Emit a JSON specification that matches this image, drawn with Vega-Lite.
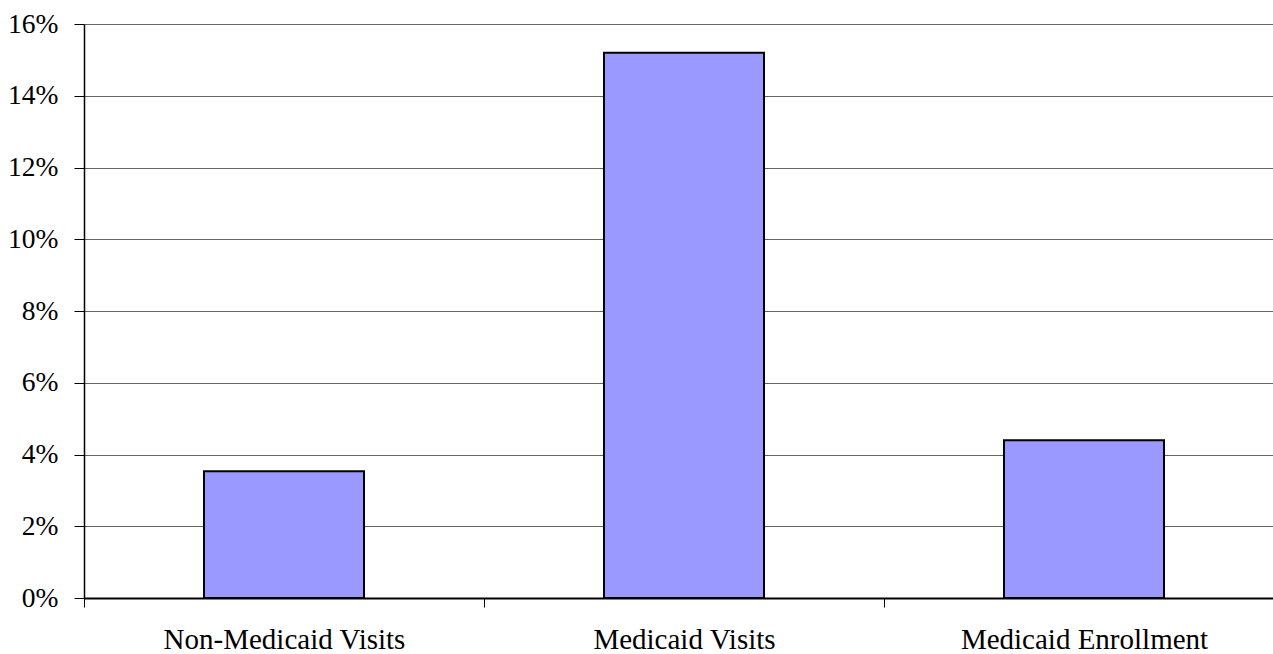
{
  "$schema": "https://vega.github.io/schema/vega-lite/v6.json",
  "autosize": "none",
  "padding": {"left": 84, "top": 24, "right": 0, "bottom": 56},
  "width": 1200,
  "height": 574,
  "background": "white",
  "config": {"view": {"stroke": null}},
  "data": {
    "values": [
      {"category": "Non-Medicaid Visits", "value": 0.0353},
      {"category": "Medicaid Visits", "value": 0.152},
      {"category": "Medicaid Enrollment", "value": 0.044}
    ]
  },
  "mark": {"type": "bar", "color": "#9999FF", "stroke": "#000000", "strokeWidth": 2, "width": {"band": 0.4}},
  "encoding": {
    "x": {
      "field": "category",
      "type": "nominal",
      "sort": null,
      "scale": {"paddingInner": 0, "paddingOuter": 0},
      "axis": {
        "title": null,
        "labelAngle": 0,
        "labelFont": "Liberation Serif",
        "labelFontSize": 29,
        "labelColor": "#000000",
        "labelLimit": 0,
        "labelBaseline": "alphabetic",
        "labelPadding": 41,
        "tickBand": "extent",
        "tickSize": 9,
        "tickColor": "#000000",
        "tickWidth": 1,
        "domainColor": "#000000",
        "domainWidth": 2,
        "grid": false
      }
    },
    "y": {
      "field": "value",
      "type": "quantitative",
      "scale": {"domain": [0, 0.16], "nice": false},
      "axis": {
        "title": null,
        "format": ".0%",
        "values": [0, 0.02, 0.04, 0.06, 0.08, 0.1, 0.12, 0.14, 0.16],
        "labelFont": "Liberation Serif",
        "labelFontSize": 27.5,
        "labelColor": "#000000",
        "labelPadding": 16,
        "tickSize": 10,
        "tickColor": "#000000",
        "tickWidth": 1,
        "domainColor": "#000000",
        "domainWidth": 1.5,
        "grid": true,
        "gridColor": "#666666",
        "gridWidth": 1.2,
        "gridOpacity": 1
      }
    }
  }
}
